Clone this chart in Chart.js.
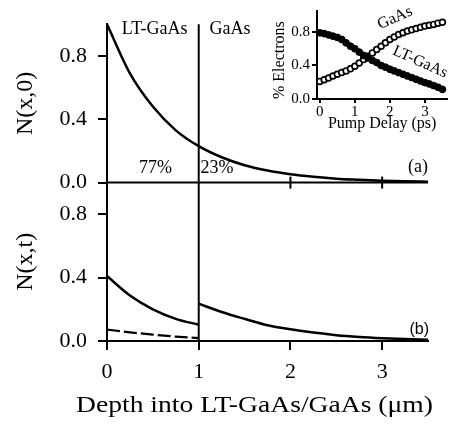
<!DOCTYPE html>
<html>
<head>
<meta charset="utf-8">
<script src="https://cdn.jsdelivr.net/npm/chart.js@4.4.1/dist/chart.umd.min.js"></script>
<style>
  html, body { margin: 0; padding: 0; background: #fff; }
  #wrap { position: relative; width: 453px; height: 426px; }
  #main { position: absolute; left: 0; top: 0; }
  #inset { position: absolute; left: 255px; top: 0; }
</style>
</head>
<body>
<div id="wrap">
  <canvas id="main" width="453" height="426"></canvas>
  <canvas id="inset" width="198" height="140"></canvas>
</div>
<script>
// ---- panel (a): N(x,0)
const depthA = [0, 0.25, 0.5, 0.75, 1.0, 1.25, 1.5, 1.75, 2.0, 2.25, 2.5, 2.75, 3.0, 3.25, 3.5];
const nx0 = [1.0, 0.69, 0.48, 0.33, 0.23, 0.16, 0.11, 0.076, 0.053, 0.037, 0.025, 0.018, 0.012, 0.008, 0.006];

// ---- panel (b): N(x,t)
const depthLT = [0, 0.25, 0.5, 0.75, 1.0];
const ntLT = [0.41, 0.287, 0.20, 0.14, 0.103];
const depthGaAs = [1.0, 1.25, 1.5, 1.75, 2.0, 2.25, 2.5, 2.75, 3.0, 3.25, 3.5];
const ntGaAs = [0.236, 0.183, 0.14, 0.10, 0.074, 0.053, 0.037, 0.026, 0.018, 0.012, 0.008];
const ntDash = [0.072, 0.055, 0.04, 0.028, 0.018];

// ---- inset: % electrons vs pump delay
const delay = [0, 0.125, 0.25, 0.375, 0.5, 0.625, 0.75, 0.875, 1.0, 1.125, 1.25, 1.375, 1.5, 1.625, 1.75,
  1.875, 2.0, 2.125, 2.25, 2.375, 2.5, 2.625, 2.75, 2.875, 3.0, 3.125, 3.25, 3.375, 3.5];
const ltFrac = [0.79, 0.78, 0.765, 0.75, 0.735, 0.71, 0.67, 0.63, 0.60, 0.56, 0.52, 0.49, 0.46, 0.435, 0.40,
  0.38, 0.355, 0.335, 0.315, 0.295, 0.275, 0.255, 0.235, 0.215, 0.195, 0.18, 0.16, 0.14, 0.115];
const gaasFrac = [0.21, 0.23, 0.25, 0.275, 0.295, 0.315, 0.335, 0.36, 0.39, 0.43, 0.47, 0.51, 0.55, 0.59, 0.63,
  0.67, 0.71, 0.74, 0.77, 0.79, 0.81, 0.825, 0.84, 0.855, 0.87, 0.88, 0.89, 0.905, 0.915];

const yTicks = [0, 0.4, 0.8];
const xTicks = [0, 1, 2, 3];

const serif = "'Liberation Serif', 'Times New Roman', serif";
const pts = (xs, ys) => xs.map((x, i) => ({x: x, y: ys[i]}));
const setTicks = vals => scale => { scale.ticks = vals.map(v => ({value: v})); };

// extra lines and labels of the main figure
const mainDecor = {
  id: 'mainDecor',
  afterDraw(chart) {
    const {ctx} = chart;
    const x = chart.scales.x, ya = chart.scales.ya, yb = chart.scales.yb;
    ctx.save();
    ctx.strokeStyle = '#000';
    ctx.lineWidth = 2;
    // interface line at 1 um
    ctx.beginPath();
    ctx.moveTo(x.getPixelForValue(1), ya.getPixelForValue(1.0));
    ctx.lineTo(x.getPixelForValue(1), yb.getPixelForValue(0));
    ctx.stroke();
    // baseline of panel (a)
    const y0 = ya.getPixelForValue(0);
    ctx.beginPath();
    ctx.moveTo(x.getPixelForValue(0), y0);
    ctx.lineTo(x.getPixelForValue(3.5), y0);
    ctx.stroke();
    [2, 3].forEach(v => {
      ctx.beginPath();
      ctx.moveTo(x.getPixelForValue(v), y0 - 6);
      ctx.lineTo(x.getPixelForValue(v), y0 + 6);
      ctx.stroke();
    });
    ctx.fillStyle = '#000';
    ctx.textBaseline = 'middle';
    ctx.font = '18px ' + serif;
    ctx.textAlign = 'center';
    ctx.fillText('LT-GaAs', x.getPixelForValue(0.52), 29);
    ctx.fillText('GaAs', x.getPixelForValue(1.34), 29);
    ctx.fillText('77%', x.getPixelForValue(0.53), 168);
    ctx.textAlign = 'left';
    ctx.fillText('23%', x.getPixelForValue(1.02), 168);
    ctx.textAlign = 'right';
    ctx.fillText('(a)', x.getPixelForValue(3.5), 167);
    ctx.font = "16px 'Liberation Sans', Arial, sans-serif";
    ctx.fillText('(b)', x.getPixelForValue(3.5) + 1, 330);

    // x axis title, a little wider than the plot like in the original
    const title = 'Depth into LT-GaAs/GaAs (\u03bcm)';
    const left = x.getPixelForValue(0) - 31, right = x.getPixelForValue(3.5) + 5;
    ctx.font = '23px ' + serif;
    const w = ctx.measureText(title).width;
    ctx.translate((left + right) / 2, x.top + 65);
    ctx.scale((right - left) / w, 1);
    ctx.textAlign = 'center';
    ctx.fillText(title, 0, 0);
    ctx.restore();
  }
};

const yBase = (title) => ({
  type: 'linear',
  position: 'left',
  stack: 'panels',
  stackWeight: 1,
  min: 0,
  max: 1.0,
  afterBuildTicks: setTicks(yTicks),
  afterFit: s => { s.width = 107; },
  border: {color: '#000', width: 2},
  grid: {drawOnChartArea: false, drawTicks: true, tickLength: 9, color: '#000', lineWidth: 2},
  ticks: {color: '#000', font: {family: serif, size: 22}, padding: 11, callback: v => v.toFixed(1)},
  title: {display: true, text: title, color: '#000', font: {family: serif, size: 24}, padding: {top: 11, bottom: 0}}
});

new Chart(document.getElementById('main'), {
  type: 'line',
  data: {
    datasets: [
      {data: pts(depthA, nx0), yAxisID: 'ya', borderColor: '#000', borderWidth: 2.5, pointRadius: 0, cubicInterpolationMode: 'monotone'},
      {data: pts(depthLT, ntLT), yAxisID: 'yb', borderColor: '#000', borderWidth: 2.5, pointRadius: 0, cubicInterpolationMode: 'monotone'},
      {data: pts(depthGaAs, ntGaAs), yAxisID: 'yb', borderColor: '#000', borderWidth: 2.5, pointRadius: 0, cubicInterpolationMode: 'monotone'},
      {data: pts(depthLT, ntDash), yAxisID: 'yb', borderColor: '#000', borderWidth: 2.2, borderDash: [13, 4], pointRadius: 0, cubicInterpolationMode: 'monotone'}
    ]
  },
  options: {
    responsive: false,
    devicePixelRatio: 1,
    animation: false,
    layout: {padding: {left: 0, right: 25, top: 20, bottom: 0}},
    plugins: {legend: {display: false}, tooltip: {enabled: false}},
    scales: {
      x: {
        type: 'linear',
        min: 0,
        max: 3.5,
        afterBuildTicks: setTicks(xTicks),
        afterFit: s => { s.height = 85; },
        border: {color: '#000', width: 2},
        grid: {drawOnChartArea: false, drawTicks: true, tickLength: 9, color: '#000', lineWidth: 2},
        ticks: {color: '#000', font: {family: serif, size: 22}, padding: 9, maxRotation: 0},
        title: {display: false}
      },
      yb: yBase('N(x,t)'),
      ya: yBase('N(x,0)')
    }
  },
  plugins: [mainDecor]
});

// rotated curve labels of the inset
const insetDecor = {
  id: 'insetDecor',
  afterDatasetsDraw(chart) {
    const {ctx} = chart;
    const label = (txt, cx, cy, ang) => {
      ctx.save();
      ctx.fillStyle = '#000';
      ctx.font = '16px ' + serif;
      ctx.textAlign = 'center';
      ctx.textBaseline = 'middle';
      ctx.translate(cx, cy);
      ctx.rotate(ang);
      ctx.fillText(txt, 0, 0);
      ctx.restore();
    };
    label('GaAs', 140, 18, -0.42);
    label('LT-GaAs', 165, 62, 0.42);
  }
};

new Chart(document.getElementById('inset'), {
  type: 'scatter',
  data: {
    datasets: [
      {data: pts(delay, ltFrac), pointRadius: 3.4, pointBackgroundColor: '#000', pointBorderColor: '#000', pointBorderWidth: 1},
      {data: pts(delay, gaasFrac), pointRadius: 2.9, pointBackgroundColor: '#fff', pointBorderColor: '#000', pointBorderWidth: 1.7}
    ]
  },
  options: {
    responsive: false,
    devicePixelRatio: 1,
    animation: false,
    layout: {padding: {left: 0, right: 2, top: 5, bottom: 0}},
    plugins: {legend: {display: false}, tooltip: {enabled: false}},
    scales: {
      x: {
        type: 'linear',
        min: -0.08,
        max: 3.64,
        afterBuildTicks: setTicks(xTicks),
        afterFit: s => { s.height = 41; },
        border: {color: '#000', width: 2},
        grid: {drawOnChartArea: false, drawTicks: true, tickLength: 4, color: '#000', lineWidth: 2},
        ticks: {color: '#000', font: {family: serif, size: 15}, padding: 0, maxRotation: 0},
        title: {display: true, text: 'Pump Delay (ps)', color: '#000', font: {family: serif, size: 16}, padding: {top: 0, bottom: 7}}
      },
      y: {
        type: 'linear',
        min: 0,
        max: 1.05,
        afterBuildTicks: setTicks(yTicks),
        afterFit: s => { s.width = 62; },
        border: {color: '#000', width: 2},
        grid: {drawOnChartArea: false, drawTicks: true, tickLength: 5, color: '#000', lineWidth: 2},
        ticks: {color: '#000', font: {family: serif, size: 15}, padding: 2, callback: v => v.toFixed(1)},
        title: {display: true, text: '% Electrons', align: 'start', color: '#000', font: {family: serif, size: 16}, padding: {top: 15, bottom: 0}}
      }
    }
  },
  plugins: [insetDecor]
});
</script>
</body>
</html>
